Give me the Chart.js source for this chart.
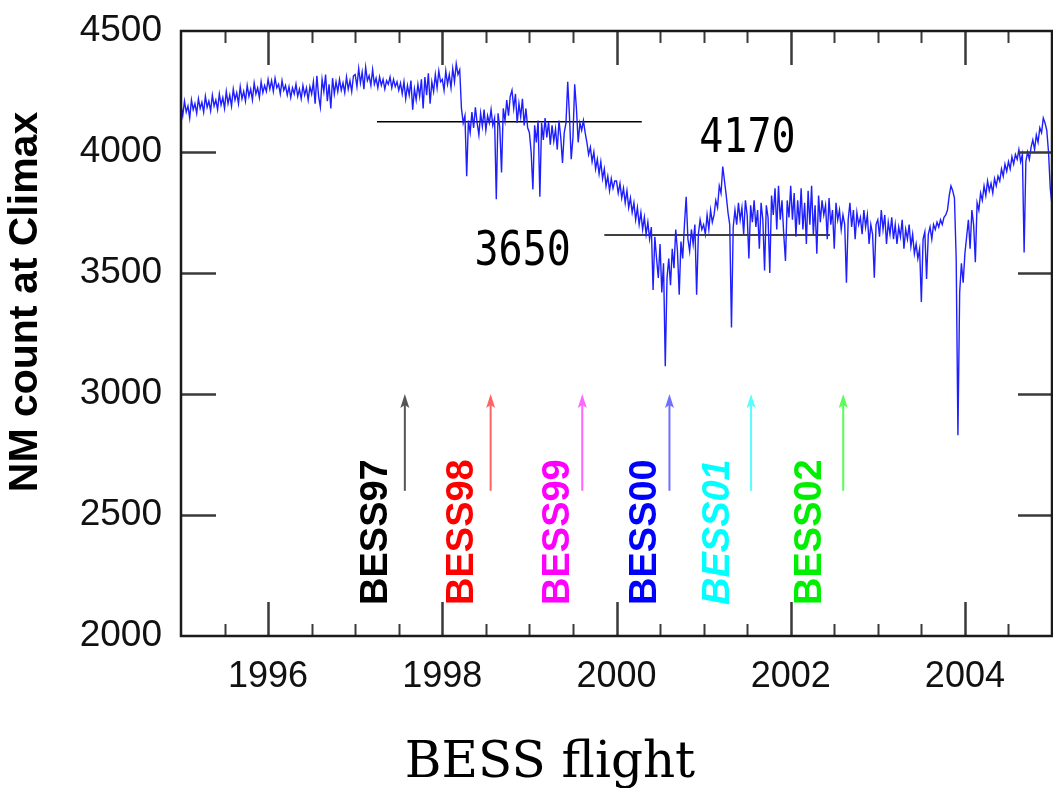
<!DOCTYPE html>
<html>
<head>
<meta charset="utf-8">
<script src="https://cdn.jsdelivr.net/npm/chart.js@4"></script>
<style>
  html, body { margin: 0; padding: 0; background: #fff; }
  #wrap { width: 1053px; height: 788px; }
</style>
</head>
<body>
<div id="wrap"><canvas id="nmChart" width="1053" height="788"></canvas></div>
<script>
// Climax neutron monitor, one sample every 0.02 year starting 1995.0
const startYear = 1995.0;
const stepYear = 0.02;
const climaxCounts = [
  // 1995
  4195, 4150, 4210, 4165, 4190, 4140, 4215, 4175, 4200, 4160,
  4220, 4180, 4205, 4165, 4230, 4185, 4210, 4170, 4235, 4190,
  4215, 4175, 4240, 4195, 4225, 4180, 4250, 4200, 4235, 4190,
  4260, 4215, 4245, 4200, 4270, 4220, 4250, 4210, 4275, 4230,
  4260, 4215, 4285, 4240, 4265, 4225, 4290, 4245, 4275, 4250,
  // 1996
  4300, 4260, 4295, 4250, 4305, 4265, 4280, 4240, 4295, 4255,
  4275, 4235, 4270, 4225, 4265, 4240, 4280, 4230, 4260, 4220,
  4275, 4235, 4265, 4215, 4270, 4240, 4290, 4200, 4315, 4230,
  4185, 4300, 4250, 4320, 4210, 4280, 4180, 4305, 4240, 4290,
  4250, 4300, 4255, 4285, 4245, 4310, 4260, 4295, 4250, 4315,
  // 1997
  4320, 4270, 4345, 4285, 4330, 4260, 4350, 4295, 4315, 4275,
  4340, 4280, 4305, 4265, 4310, 4275, 4300, 4260, 4295, 4280,
  4310, 4265, 4300, 4270, 4290, 4255, 4285, 4240, 4290, 4220,
  4275, 4235, 4295, 4175, 4260, 4215, 4280, 4230, 4300, 4180,
  4310, 4235, 4325, 4200, 4290, 4250, 4320, 4265, 4335, 4290,
  // 1998
  4300, 4255, 4335, 4280, 4320, 4265, 4345, 4290, 4365, 4320,
  4340, 4180, 4120, 4150, 3900, 4130, 4080, 4165, 4100, 4185,
  4120, 4070, 4160, 4105, 4175, 4090, 4150, 4120, 4175, 4110,
  4140, 3805, 4160, 4100, 3915, 4180, 4130, 4215, 4150, 4230,
  4255, 4180, 4240, 4120, 4200, 4145, 4220, 4110, 4180, 4100,
  // 1999
  4080, 4000, 3845, 4110, 4040, 4130, 3815, 4120, 4050, 4140,
  4060, 4125, 4030, 4110, 4045, 4095, 4010, 4130, 4060, 3955,
  4080, 4120, 4290, 4150, 3970, 4060, 4280, 4180, 4040, 4120,
  4090, 4130, 4080, 4040, 3990, 4020, 3960, 4000, 3930, 3970,
  3910, 3960, 3890, 3930, 3860, 3900, 3840, 3890, 3850, 3880,
  // 2000
  3880, 3830, 3870, 3810, 3850, 3790, 3840, 3770, 3810, 3750,
  3790, 3720, 3770, 3700, 3750, 3680, 3730, 3660, 3710, 3640,
  3690, 3430, 3650, 3560, 3480, 3620, 3420, 3540, 3115, 3480,
  3560, 3450, 3600, 3520, 3680, 3590, 3410, 3630, 3560, 3700,
  3815, 3640, 3590, 3680, 3620, 3700, 3410, 3660, 3720, 3680,
  // 2001
  3700, 3660, 3740, 3680, 3760, 3710, 3740, 3800, 3770, 3860,
  3830, 3940, 3880, 3820, 3750, 3700, 3275, 3690, 3760, 3700,
  3790, 3720, 3770, 3660, 3800, 3740, 3560, 3780, 3710, 3800,
  3690, 3760, 3600, 3790, 3720, 3510, 3780, 3730, 3500, 3820,
  3740, 3850, 3680, 3860, 3720, 3800, 3660, 3550, 3800, 3730,
  // 2002
  3860, 3720, 3830, 3650, 3800, 3700, 3850, 3680, 3790, 3620,
  3840, 3700, 3860, 3660, 3780, 3580, 3820, 3710, 3800, 3740,
  3780, 3640, 3810, 3700, 3760, 3600, 3790, 3720, 3760, 3680,
  3740, 3700, 3460, 3720, 3790, 3690, 3760, 3640, 3750, 3700,
  3730, 3660, 3760, 3690, 3740, 3620, 3700, 3660, 3480, 3700,
  // 2003
  3720, 3650, 3760, 3680, 3740, 3620, 3710, 3660, 3730, 3640,
  3700, 3620, 3690, 3650, 3720, 3600, 3680, 3640, 3700, 3610,
  3660, 3580, 3620, 3560, 3600, 3380, 3640, 3670, 3475, 3660,
  3690, 3640, 3700, 3680, 3710, 3690, 3720, 3700, 3730, 3740,
  3760, 3820, 3860, 3840, 3810, 3560, 2830, 3420, 3540, 3460,
  // 2004
  3580, 3650, 3720, 3600, 3760, 3700, 3545, 3790, 3760, 3830,
  3800, 3860, 3820, 3880, 3840, 3870, 3830, 3890, 3860, 3900,
  3880, 3930, 3900, 3950, 3920, 3960, 3930, 3980, 3950, 3990,
  3970, 4010, 3960, 3990, 3585, 3960, 4000, 3970, 4020, 4050,
  4010, 4070, 4040, 4100, 4080, 4140, 4120, 4090, 4000, 3850,
  3780
];

const yearLabels = [1996, 1998, 2000, 2002, 2004];

// BESS balloon flights
const flightNames = ['BESS97', 'BESS98', 'BESS99', 'BESS00', 'BESS01', 'BESS02'];
const flightYears = [1997.57, 1998.555, 1999.607, 2000.608, 2001.545, 2002.603];
const arrowFrom = 2600;
const arrowTo = 3000;

// reference levels
const levelNames = ['4170', '3650'];
const levelValues = [4125, 3657];
const levelStart = [1997.25, 1999.86];
const levelEnd = [2000.29, 2002.45];

const flightTextColors = ['#000000', '#ff0000', '#ff00ff', '#0000ff', '#00ffff', '#00ee00'];
const flightArrowColors = ['#555555', '#ff6464', '#ff66ff', '#7070ff', '#55ffff', '#55ff55'];
const flightTextShift = [18, 18, 13, 13, 22, 22];

const countPoints = climaxCounts.map((v, i) => ({ x: startYear + i * stepYear, y: v }));

const levelSets = levelValues.map((v, i) => ({
  data: [{ x: levelStart[i], y: v }, { x: levelEnd[i], y: v }],
  borderColor: '#000',
  borderWidth: 1.3,
  pointRadius: 0
}));

function noScalePadding(s) {
  s.paddingTop = 0;
  s.paddingBottom = 0;
  s.paddingLeft = 0;
  s.paddingRight = 0;
}

const notesPlugin = {
  id: 'notes',
  afterDatasetsDraw(chart) {
    const { ctx, chartArea: a, scales: { x, y } } = chart;
    ctx.save();

    // inward ticks on all four sides
    ctx.strokeStyle = '#3a3a3a';
    for (let t = 1995.5; t < 2005; t += 0.5) {
      const major = yearLabels.includes(t);
      const px = Math.round(x.getPixelForValue(t)) + 0.5;
      const len = major ? 34 : 12;
      ctx.lineWidth = major ? 2.5 : 2;
      ctx.beginPath();
      ctx.moveTo(px, a.top); ctx.lineTo(px, a.top + len);
      ctx.moveTo(px, a.bottom); ctx.lineTo(px, a.bottom - len);
      ctx.stroke();
    }
    ctx.lineWidth = 2.5;
    for (let v = 2500; v < 4500; v += 500) {
      const py = Math.round(y.getPixelForValue(v)) + 0.5;
      ctx.beginPath();
      ctx.moveTo(a.left, py); ctx.lineTo(a.left + 35, py);
      ctx.moveTo(a.right, py); ctx.lineTo(a.right - 34, py);
      ctx.stroke();
    }

    // frame
    ctx.strokeStyle = '#1a1a1a';
    ctx.lineWidth = 2.5;
    ctx.strokeRect(a.left, a.top, a.right - a.left, a.bottom - a.top);

    // flight arrows and names
    flightYears.forEach((yr, i) => {
      const px = x.getPixelForValue(yr);
      const y0 = y.getPixelForValue(arrowFrom);
      const y1 = y.getPixelForValue(arrowTo);
      ctx.strokeStyle = flightArrowColors[i];
      ctx.fillStyle = flightArrowColors[i];
      ctx.lineWidth = 2;
      ctx.beginPath();
      ctx.moveTo(px, y0); ctx.lineTo(px, y1 + 8);
      ctx.stroke();
      ctx.beginPath();
      ctx.moveTo(px, y1);
      ctx.lineTo(px - 4.5, y1 + 14);
      ctx.lineTo(px, y1 + 11);
      ctx.lineTo(px + 4.5, y1 + 14);
      ctx.closePath();
      ctx.fill();

      ctx.save();
      ctx.translate(px - flightTextShift[i], 605);
      ctx.rotate(-Math.PI / 2);
      ctx.font = (flightNames[i] === 'BESS01' ? 'italic ' : '') + 'bold 38px "Liberation Sans", Arial, sans-serif';
      ctx.fillStyle = flightTextColors[i];
      ctx.textAlign = 'left';
      ctx.textBaseline = 'alphabetic';
      ctx.fillText(flightNames[i], 0, 0);
      ctx.restore();
    });

    // level values
    const levelTextAt = [[2000.95, 4000], [1998.37, 3532]];
    ctx.fillStyle = '#000';
    ctx.font = '40px "DejaVu Sans Mono", monospace';
    ctx.textAlign = 'left';
    ctx.textBaseline = 'alphabetic';
    levelNames.forEach((name, i) => {
      ctx.save();
      ctx.translate(x.getPixelForValue(levelTextAt[i][0]), y.getPixelForValue(levelTextAt[i][1]));
      ctx.scale(1, 1.2);
      ctx.fillText(name, 0, 0);
      ctx.restore();
    });

    // axis titles
    ctx.save();
    ctx.translate(26, 302);
    ctx.rotate(-Math.PI / 2);
    ctx.font = 'bold 41px "Liberation Sans", Arial, sans-serif';
    ctx.textAlign = 'center';
    ctx.textBaseline = 'middle';
    ctx.fillText('NM count at Climax', 0, 0);
    ctx.restore();

    ctx.font = '50px "DejaVu Serif", serif';
    ctx.textAlign = 'center';
    ctx.textBaseline = 'alphabetic';
    ctx.fillText('BESS flight', 550, 777);

    ctx.restore();
  }
};

new Chart(document.getElementById('nmChart'), {
  type: 'line',
  data: {
    datasets: [{
      data: countPoints,
      borderColor: '#1e1eff',
      borderWidth: 1.4,
      pointRadius: 0,
      tension: 0
    }, ...levelSets]
  },
  options: {
    responsive: false,
    animation: false,
    devicePixelRatio: 1,
    layout: { padding: { top: 31, right: 1, left: 0, bottom: 0 } },
    plugins: { legend: { display: false }, tooltip: { enabled: false } },
    scales: {
      x: {
        type: 'linear',
        min: 1995,
        max: 2005,
        grid: { display: false, drawTicks: false },
        border: { display: false },
        afterFit: s => { s.height = 152; noScalePadding(s); },
        ticks: {
          stepSize: 1,
          padding: 19,
          maxRotation: 0,
          autoSkip: false,
          color: '#111',
          font: { family: '"Liberation Sans", Arial, sans-serif', size: 36 },
          callback: v => yearLabels.includes(v) ? String(v) : ''
        }
      },
      y: {
        min: 2000,
        max: 4500,
        grid: { display: false, drawTicks: false },
        border: { display: false },
        afterFit: s => { s.width = 181; noScalePadding(s); },
        ticks: {
          stepSize: 500,
          padding: 19,
          color: '#111',
          font: { family: '"Liberation Sans", Arial, sans-serif', size: 37 },
          callback: v => String(v)
        }
      }
    }
  },
  plugins: [notesPlugin]
});
</script>
</body>
</html>
